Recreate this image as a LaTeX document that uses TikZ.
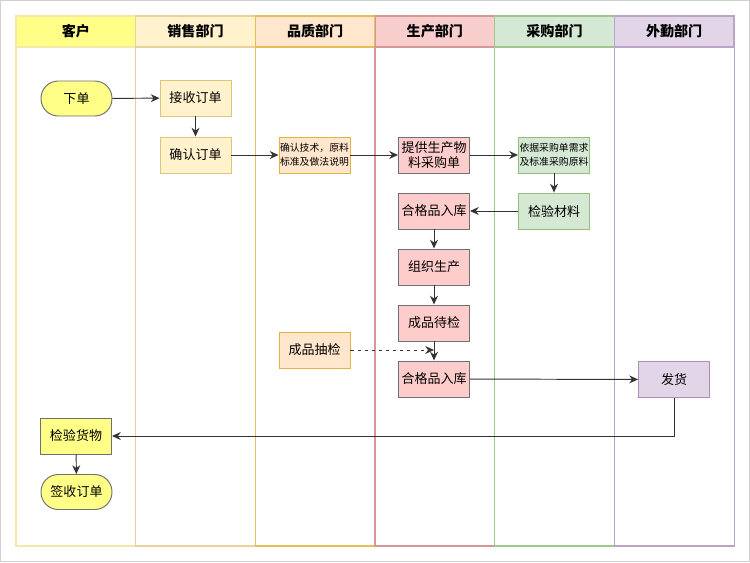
\documentclass[tikz,border=0pt]{standalone}
\usepackage{fontspec}
\setmainfont{Noto Sans CJK SC}
\usetikzlibrary{arrows.meta}
\definecolor{amaA}{HTML}{FFFF88}
\definecolor{amaAb}{HTML}{F6E7A8}
\definecolor{amaB}{HTML}{FFF2CC}
\definecolor{amaBb}{HTML}{D6B656}
\definecolor{naraC}{HTML}{FFE6CC}
\definecolor{naraCb}{HTML}{D79B00}
\definecolor{rojoD}{HTML}{F8CECC}
\definecolor{rojoDb}{HTML}{B85450}
\definecolor{rojoN}{HTML}{FFCCCC}
\definecolor{verdeE}{HTML}{D5E8D4}
\definecolor{verdeEb}{HTML}{82B366}
\definecolor{moraF}{HTML}{E1D5E7}
\definecolor{moraFb}{HTML}{9673A6}
\definecolor{gris}{HTML}{6E7074}
\begin{document}
\begin{tikzpicture}[x=0.02cm,y=-0.02cm,>={Stealth[length=5pt,width=4.5pt]},
    caja/.style={draw=#1,line width=0.55pt,minimum width=1.42cm,minimum height=0.72cm,inner sep=1pt,align=center,font=\fontsize{7.4}{8.2}\selectfont},
    ovalo/.style={rectangle,rounded corners=0.345cm,draw=gris,fill=amaA,line width=0.55pt,minimum width=1.42cm,minimum height=0.7cm,font=\fontsize{7.4}{8.2}\selectfont},
    cabeza/.style={draw=#1,line width=0.6pt,minimum width=2.393cm,minimum height=0.62cm,inner sep=0pt,outer sep=0pt,font=\fontsize{8}{9}\bfseries},
    flecha/.style={->,draw=black!80,line width=0.55pt}]
    %Marco
    \useasboundingbox (0,0) rectangle (750,562);
    \draw[black!18,line width=0.8pt] (0.5,0.5) rectangle (749.5,561.5);
    %Carriles
    \foreach \i/\nombre/\fondo/\borde in {0/客户/amaA/amaAb,1/销售部门/amaB/amaBb!60,2/品质部门/naraC/naraCb!65,3/生产部门/rojoD/rojoDb!60,4/采购部门/verdeE/verdeEb!75,5/外勤部门/moraF/moraFb!65}
    {
        \draw[\borde,line width=0.6pt] (16+\i*119.67,47) rectangle (16+\i*119.67+119.67,546);
        \node[cabeza=\borde,fill=\fondo] (carril\i) at (16+\i*119.67+59.83,31.5) {\nombre};
    }
    %Nodos
    \node[ovalo] (xiadan) at (76.5,98.5) {下单};
    \node[caja=amaBb!80,fill=amaB] (jieshou) at (195.5,98) {接收订单};
    \node[caja=amaBb!80,fill=amaB] (queren) at (195.5,155) {确认订单};
    \node[caja=naraCb!75,fill=naraC,font=\fontsize{5.6}{8}\selectfont,inner sep=0.5pt] (pinzhi) at (314.5,155) {确认技术，原料\\标准及做法说明};
    \node[caja=gris,fill=rojoN] (tigong) at (434,155) {提供生产物\\料采购单};
    \node[caja=verdeEb!85,fill=verdeE,font=\fontsize{5.6}{8}\selectfont,inner sep=0.5pt] (yiju) at (554,155) {依据采购单需求\\及标准采购原料};
    \node[caja=verdeEb!85,fill=verdeE] (jiancai) at (554,211) {检验材料};
    \node[caja=gris,fill=rojoN] (rukuA) at (434,211) {合格品入库};
    \node[caja=gris,fill=rojoN] (zuzhi) at (434,267) {组织生产};
    \node[caja=gris,fill=rojoN] (daijian) at (434,323) {成品待检};
    \node[caja=gris,fill=rojoN] (rukuB) at (434,379) {合格品入库};
    \node[caja=naraCb!75,fill=naraC] (choujian) at (314.5,350) {成品抽检};
    \node[caja=moraFb!80,fill=moraF] (fahuo) at (674,379.5) {发货};
    \node[caja=gris,fill=amaA] (huowu) at (76,436) {检验货物};
    \node[ovalo] (qianshou) at (76.5,492) {签收订单};
    \coordinate (cruce) at (434,350);
    %Conectores
    \draw[flecha] (xiadan) -- (jieshou);
    \draw[flecha] (jieshou) -- (queren);
    \draw[flecha] (queren) -- (pinzhi);
    \draw[flecha] (pinzhi) -- (tigong);
    \draw[flecha] (tigong) -- (yiju);
    \draw[flecha] (yiju) -- (jiancai);
    \draw[flecha] (jiancai) -- (rukuA);
    \draw[flecha] (rukuA) -- (zuzhi);
    \draw[flecha] (zuzhi) -- (daijian);
    \draw[flecha] (daijian) -- (rukuB);
    \draw[flecha,dash pattern=on 2pt off 2pt] (choujian) -- (cruce);
    \draw[flecha] (rukuB) -- (fahuo);
    \draw[flecha] (fahuo.south) |- (huowu.east);
    \draw[flecha] (huowu) -- (qianshou);
\end{tikzpicture}
\end{document}
